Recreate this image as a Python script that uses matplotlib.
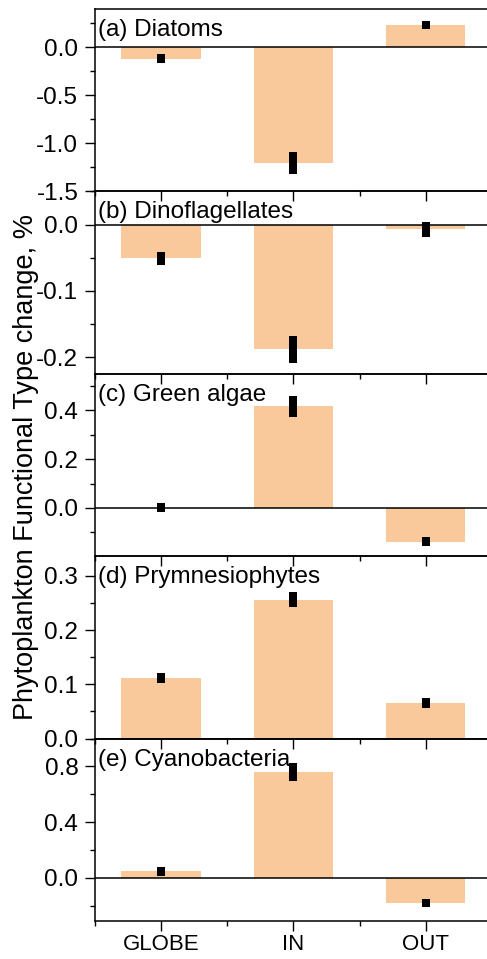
import matplotlib
matplotlib.use('Agg')
import matplotlib.pyplot as plt
from matplotlib.ticker import MultipleLocator

plt.rcParams['font.family'] = ['Liberation Sans', 'DejaVu Sans']
plt.rcParams['axes.unicode_minus'] = False

regions = ['GLOBE', 'IN', 'OUT']
titles = ['(a) Diatoms', '(b) Dinoflagellates', '(c) Green algae',
          '(d) Prymnesiophytes', '(e) Cyanobacteria']

# bar heights (mean change, %)
diatoms = [-0.117, -1.205, 0.232]
dinoflag = [-0.051, -0.188, -0.007]
green = [0.001, 0.416, -0.138]
prymnes = [0.112, 0.256, 0.066]
cyano = [0.048, 0.762, -0.181]

# individual members shown as black squares
diatoms_pts = [[-0.115, -0.12], [-1.13, -1.17, -1.21, -1.25, -1.28], [0.23, 0.235]]
dinoflag_pts = [[-0.047, -0.051, -0.055], [-0.174, -0.181, -0.188, -0.195, -0.202],
                [-0.002, -0.007, -0.013]]
green_pts = [[0.0, 0.002], [0.388, 0.40, 0.415, 0.43, 0.442], [-0.136, -0.14]]
prymnes_pts = [[0.11, 0.113], [0.249, 0.256, 0.263], [0.064, 0.067]]
cyano_pts = [[0.045, 0.05], [0.725, 0.745, 0.765, 0.78, 0.796], [-0.18, -0.183]]

bars = [diatoms, dinoflag, green, prymnes, cyano]
points = [diatoms_pts, dinoflag_pts, green_pts, prymnes_pts, cyano_pts]
ylims = [(-1.5, 0.4), (-0.225, 0.05), (-0.198, 0.55), (0.0, 0.336), (-0.31, 1.0)]
major = [0.5, 0.1, 0.2, 0.1, 0.4]

fig, axes = plt.subplots(5, 1, figsize=(4.87, 9.59), dpi=100, sharex=True)
fig.subplots_adjust(left=0.195, right=1.0099, top=0.9906, bottom=0.0396, hspace=0)

x = list(range(len(regions)))
for k, ax in enumerate(axes):
    ax.patch.set_visible(False)
    ax.bar(x, bars[k], width=0.6, color='#F9C89B', zorder=1)
    ax.axhline(0, color='black', lw=1.1, zorder=2)
    for i, vals in enumerate(points[k]):
        ax.plot([i] * len(vals), vals, 's', color='black', ms=5.5, mew=0, zorder=3)
    ax.set_ylim(*ylims[k])
    ax.set_xlim(-0.5, 2.5)
    ax.yaxis.set_major_locator(MultipleLocator(major[k]))
    ax.yaxis.set_minor_locator(MultipleLocator(major[k] / 2))
    ax.xaxis.set_minor_locator(MultipleLocator(0.5))
    ax.tick_params(which='major', direction='out', length=7, width=1, labelsize=17.5, pad=5)
    ax.tick_params(which='minor', direction='out', length=3.5, width=1)
    for s in ax.spines.values():
        s.set_linewidth(1.1)
    ax.text(0.008, 0.945, titles[k], transform=ax.transAxes, ha='left', va='top',
            fontsize=17.5)

axes[-1].set_xticks(x)
axes[-1].set_xticklabels(regions)
axes[-1].tick_params(axis='x', labelsize=16, pad=2.5)

fig.text(0.053, 0.513, 'Phytoplankton Functional Type change, %', rotation=90,
         ha='center', va='center', fontsize=19.5)

fig.savefig('out.png', dpi=100, facecolor='white')
